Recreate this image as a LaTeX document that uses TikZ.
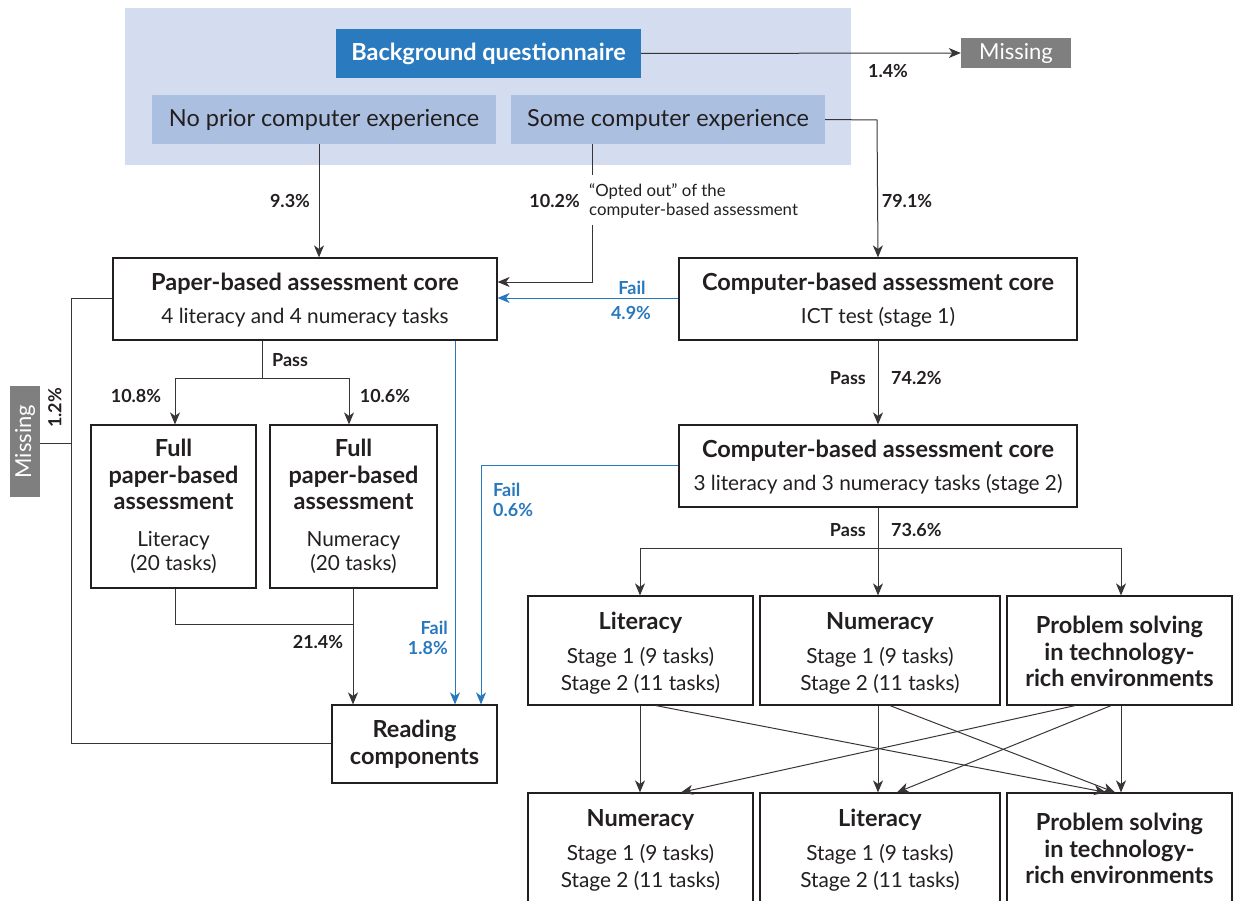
\documentclass[tikz,border=0pt]{standalone}
\usepackage{fontspec}
\setmainfont{Lato}
\usetikzlibrary{arrows.meta}
\definecolor{txt}{HTML}{231F20}
\definecolor{bgblue}{HTML}{D3DDEF}
\definecolor{bqblue}{HTML}{2A7ABF}
\definecolor{ansblue}{HTML}{ABBFE0}
\definecolor{missgray}{HTML}{7F7F7F}
\definecolor{failblue}{HTML}{2878BE}
\newcommand\fbig{\fontsize{23.5}{26.5}\selectfont}
\newcommand\fsub{\fontsize{20.8}{27}\selectfont}
\newcommand\fpct{\fontsize{18}{20}\selectfont\bfseries}
\newcommand\fnote{\fontsize{16.8}{19.5}\selectfont}
\begin{document}
\begin{tikzpicture}[x=1pt,y=-1pt,
  box/.style={draw=txt, line width=1.2pt, fill=white, inner sep=0pt, align=center, text=txt, font=\fbig},
  ans/.style={fill=ansblue, inner sep=0pt, text=txt, font=\fbig},
  miss/.style={fill=missgray, inner sep=0pt, text=white, font=\fontsize{22}{24}\selectfont},
  conn/.style={draw=txt!90, line width=1pt},
  arr/.style={conn, -{Stealth[length=12pt,width=10pt,inset=3.5pt]}},
  failarr/.style={draw=failblue, line width=1pt, -{Stealth[length=12pt,width=10pt,inset=3.5pt]}},
  failline/.style={draw=failblue, line width=1pt},
  pct/.style={text=txt, font=\fpct, inner sep=0pt},
  failtxt/.style={text=failblue, font=\fpct, inner sep=0pt, align=left}]
\useasboundingbox (0,0) rectangle (1233,901);
\clip (0,0) rectangle (1233,901);
% background panel
\fill[bgblue] (125,8) rectangle (851,165);
\node[fill=bqblue, text=white, font=\fbig\bfseries, minimum width=305pt, minimum height=49pt, inner sep=0pt] (bq) at (488.5,53.5) {Background questionnaire};
\node[ans, minimum width=344pt, minimum height=49pt] (npce) at (324,119.5) {No prior computer experience};
\node[ans, minimum width=314pt, minimum height=49pt] (sce) at (668,119.5) {Some computer experience};
\node[miss, minimum width=110pt, minimum height=30pt] (miss1) at (1016,53) {Missing};
% main boxes
\node[box, minimum width=384pt, minimum height=82pt] (paper) at (305,299) {\rule{0pt}{20pt}\textbf{Paper-based assessment core}\\[7pt]\fsub 4 literacy and 4 numeracy tasks};
\node[box, minimum width=398pt, minimum height=82pt] (cbt1) at (878,299) {\rule{0pt}{20pt}\textbf{Computer-based assessment core}\\[7pt]\fsub ICT test (stage 1)};
\node[box, minimum width=165pt, minimum height=163pt] (fullL) at (173.5,506.5) {\textbf{Full}\\\textbf{paper-based}\\\textbf{assessment}\\[10pt]\fsub Literacy\\[-2pt]\fsub (20 tasks)};
\node[box, minimum width=167pt, minimum height=163pt] (fullN) at (353.5,506.5) {\textbf{Full}\\\textbf{paper-based}\\\textbf{assessment}\\[10pt]\fsub Numeracy\\[-2pt]\fsub (20 tasks)};
\node[box, minimum width=165pt, minimum height=78pt] (read) at (414.5,744) {\textbf{Reading}\\\textbf{components}};
\node[miss, minimum width=111pt, minimum height=30pt, rotate=90] (missL) at (25,441.5) {Missing};
\node[box, minimum width=398pt, minimum height=82pt] (cbt2) at (878,466) {\rule{0pt}{20pt}\textbf{Computer-based assessment core}\\[7pt]\fsub 3 literacy and 3 numeracy tasks (stage 2)};
% row 1
\node[box, minimum width=225pt, minimum height=109pt] (r1a) at (640.5,650.5) {\rule{0pt}{22pt}\textbf{Literacy}\\[8pt]\fsub Stage 1 (9 tasks)\\\fsub Stage 2 (11 tasks)};
\node[box, minimum width=240pt, minimum height=109pt] (r1b) at (880,650.5) {\rule{0pt}{22pt}\textbf{Numeracy}\\[8pt]\fsub Stage 1 (9 tasks)\\\fsub Stage 2 (11 tasks)};
\node[box, minimum width=225pt, minimum height=109pt] (r1c) at (1119.5,650.5) {\rule{0pt}{20pt}\textbf{Problem solving}\\\textbf{in technology-}\\\textbf{rich environments}};
% row 2
\node[box, minimum width=225pt, minimum height=109pt] (r2a) at (640.5,847.5) {\rule{0pt}{22pt}\textbf{Numeracy}\\[8pt]\fsub Stage 1 (9 tasks)\\\fsub Stage 2 (11 tasks)};
\node[box, minimum width=240pt, minimum height=109pt] (r2b) at (880,847.5) {\rule{0pt}{22pt}\textbf{Literacy}\\[8pt]\fsub Stage 1 (9 tasks)\\\fsub Stage 2 (11 tasks)};
\node[box, minimum width=225pt, minimum height=109pt] (r2c) at (1119.5,847.5) {\rule{0pt}{20pt}\textbf{Problem solving}\\\textbf{in technology-}\\\textbf{rich environments}};
% coordinates
\coordinate (xnp) at (319,0);
\coordinate (xso) at (592,0);
\coordinate (cs1) at (592,175);
\coordinate (cs2) at (592,225);
\coordinate (cs3) at (592,282);
\coordinate (cr) at (877,120);
\coordinate (pp) at (262,378);
\coordinate (pl) at (175,378);
\coordinate (pr) at (349,378);
\coordinate (fl) at (175,624);
\coordinate (fn) at (353,624);
\coordinate (lft1) at (71,298);
\coordinate (lft2) at (71,743);
\coordinate (lftm) at (71,443);
\coordinate (xf1) at (455,0);
\coordinate (cf2) at (481,465);
\coordinate (cp) at (878,548);
\coordinate (cpl) at (640,548);
\coordinate (cpr) at (1121,548);
% connectors
\draw[arr] (bq.east) -- (miss1.west);
\node[pct] (p14) at (888,71) {1.4\%};
\draw[arr] (sce.east) -- (cr) -- (cbt1.north);
\node[pct] (p791) at (907,201) {79.1\%};
\draw[arr] (npce.south -| xnp) -- (paper.north -| xnp);
\node[pct] (p93) at (290,201) {9.3\%};
\draw[conn] (sce.south -| xso) -- (cs1);
\draw[arr] (cs2) -- (cs3) -- (paper.east |- cs3);
\node[pct, anchor=east] (p102) at (580,201) {10.2\%};
\node[text=txt, font=\fnote, align=left, anchor=west, inner sep=0pt] (opt) at (589,201) {“Opted out” of the\\computer-based assessment};
\draw[failarr] (cbt1.west |- 0,298) -- (paper.east |- 0,298);
\node[failtxt] (f49a) at (632,288) {Fail};
\node[failtxt] (f49b) at (631,313) {4.9\%};
\draw[conn] (paper.south -| pp) -- (pp);
\draw[arr] (pl) -- (fullL.north -| pl);
\draw[arr] (pr) -- (fullN.north -| pr);
\draw[conn] (pl) -- (pr);
\node[pct, anchor=west] (pass1) at (272,360) {Pass};
\node[pct] (p108) at (136,396) {10.8\%};
\node[pct] (p106) at (385,396) {10.6\%};
\draw[conn] (fullL.south -| fl) -- (fl) -- (fn);
\draw[arr] (fullN.south -| fn) -- (read.north -| fn);
\node[pct] (p214) at (318,642) {21.4\%};
\draw[conn] (paper.west |- lft1) -- (lft1) -- (lft2) -- (read.west |- lft2);
\draw[conn] (missL.south |- lftm) -- (lftm);
\node[pct, rotate=90] (p12) at (55,408) {1.2\%};
\draw[failarr] (paper.south -| xf1) -- (read.north -| xf1);
\node[failtxt, align=right, anchor=east] (f18) at (448,638) {Fail\\1.8\%};
\draw[failline] (cbt2.west |- cf2) -- (cf2);
\draw[failarr] (cf2) -- (read.north -| cf2);
\node[failtxt, anchor=west] (f06) at (493,500) {Fail\\0.6\%};
\draw[arr] (cbt1.south) -- (cbt2.north);
\node[pct, anchor=east] (pass2) at (866,378) {Pass};
\node[pct, anchor=west] (p742) at (891,378) {74.2\%};
\draw[conn] (cbt2.south) -- (cp);
\draw[conn] (cpl) -- (cpr);
\draw[arr] (cpl) -- (r1a.north -| cpl);
\draw[arr] (cp) -- (r1b.north -| cp);
\draw[arr] (cpr) -- (r1c.north -| cpr);
\node[pct, anchor=east] (pass3) at (866,530) {Pass};
\node[pct, anchor=west] (p736) at (891,530) {73.6\%};
% crossing arrows
\draw[arr] (r1a.south -| 640,0) -- (r2a.north -| 640,0);
\draw[arr] (r1a.south -| 656,0) -- (r2c.north -| 1106,0);
\draw[arr] (r1b.south -| 878,0) -- (r2b.north -| 878,0);
\draw[arr] (r1b.south -| 890,0) -- (r2c.north -| 1115,0);
\draw[arr] (r1c.south -| 1075,0) -- (r2a.north -| 681,0);
\draw[arr] (r1c.south -| 1111,0) -- (r2b.north -| 897,0);
\draw[arr] (r1c.south -| 1121,0) -- (r2c.north -| 1121,0);
\end{tikzpicture}
\end{document}
